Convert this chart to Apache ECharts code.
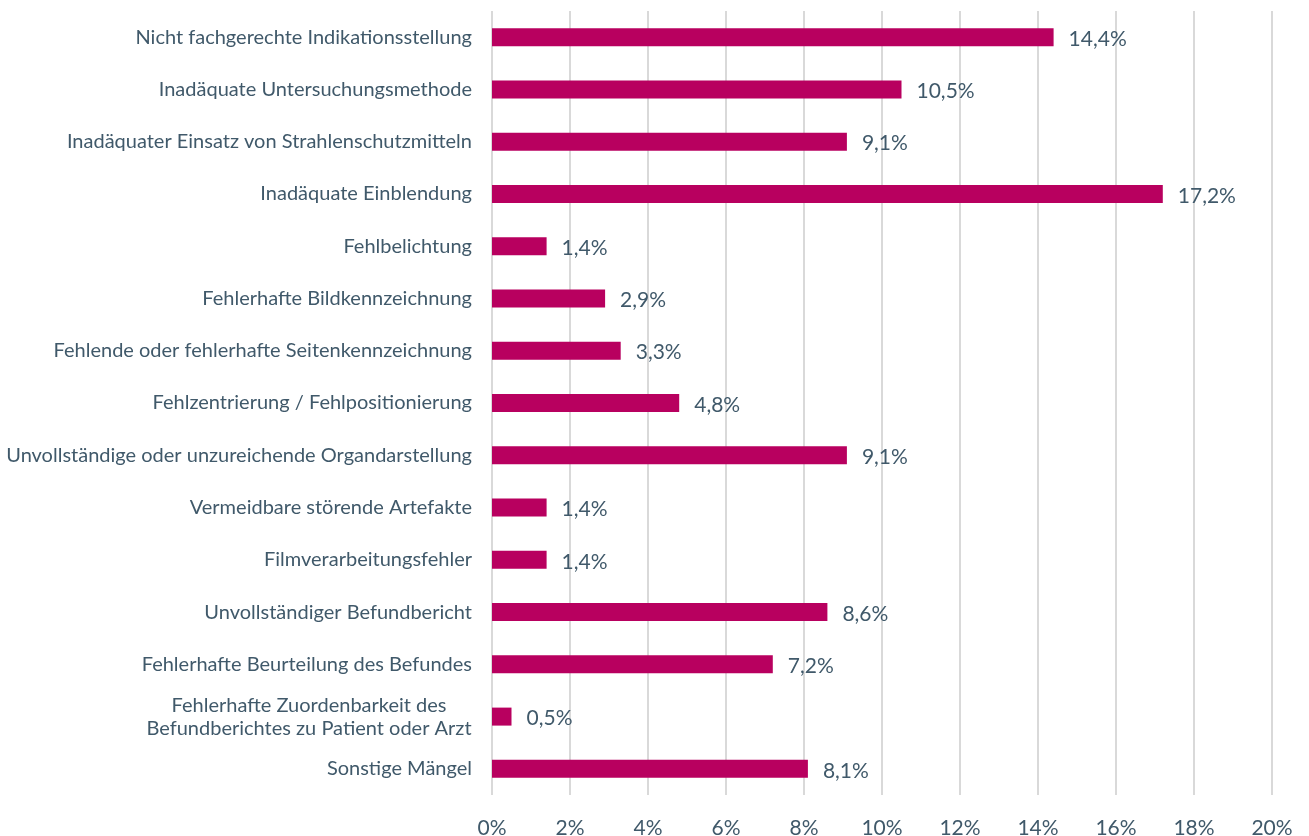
<!DOCTYPE html>
<html>
<head>
<meta charset="utf-8">
<script src="https://cdn.jsdelivr.net/npm/echarts@6/dist/echarts.min.js"></script>
<style>
  html, body { margin: 0; padding: 0; background: #fff; }
  #chart { width: 1309px; height: 836px; }
</style>
</head>
<body>
<div id="chart"></div>
<script>
// Kategorien von oben nach unten
var categories = [
    'Nicht fachgerechte Indikationsstellung',
    'Inadäquate Untersuchungsmethode',
    'Inadäquater Einsatz von Strahlenschutzmitteln',
    'Inadäquate Einblendung',
    'Fehlbelichtung',
    'Fehlerhafte Bildkennzeichnung',
    'Fehlende oder fehlerhafte Seitenkennzeichnung',
    'Fehlzentrierung / Fehlpositionierung',
    'Unvollständige oder unzureichende Organdarstellung',
    'Vermeidbare störende Artefakte',
    'Filmverarbeitungsfehler',
    'Unvollständiger Befundbericht',
    'Fehlerhafte Beurteilung des Befundes',
    'Fehlerhafte Zuordenbarkeit des\nBefundberichtes zu Patient oder Arzt',
    'Sonstige Mängel'
];
// Anteile in Prozent
var values = [14.4, 10.5, 9.1, 17.2, 1.4, 2.9, 3.3, 4.8, 9.1, 1.4, 1.4, 8.6, 7.2, 0.5, 8.1];

var axisMin = 0;
var axisMax = 20;
var axisStep = 2;

(function () {
    var font = 'Lato, "Open Sans", sans-serif';
    var textColor = '#40596a';
    var myChart = echarts.init(document.getElementById('chart'));
    var option = {
        animation: false,
        grid: {
            top: 11,
            bottom: 41,
            left: 492,
            right: 37,
            containLabel: false,
            outerBoundsMode: 'none' // Raster nicht wegen Beschriftung verkleinern
        },
        xAxis: {
            type: 'value',
            min: axisMin,
            max: axisMax,
            interval: axisStep,
            axisLine: { show: false },
            axisTick: { show: false },
            axisLabel: {
                color: textColor,
                fontFamily: font,
                fontSize: 21,
                margin: 23,
                formatter: '{value}%'
            },
            splitLine: {
                lineStyle: { color: '#d9d9d9', width: 2 }
            }
        },
        yAxis: {
            type: 'category',
            inverse: true, // erste Kategorie oben
            data: categories,
            axisLine: { show: false },
            axisTick: { show: false },
            axisLabel: {
                color: textColor,
                fontFamily: font,
                fontSize: 20,
                margin: 20,
                align: 'right',
                // zweizeilige Beschriftung zentriert untereinander
                formatter: function (v) {
                    if (v.indexOf('\n') < 0) return v;
                    return v.split('\n').map(function (s) {
                        return '{c|' + s + '}';
                    }).join('\n');
                },
                rich: {
                    c: {
                        color: textColor,
                        fontFamily: font,
                        fontSize: 20,
                        lineHeight: 23,
                        width: 326,
                        align: 'center'
                    }
                }
            }
        },
        series: [{
            type: 'bar',
            data: values,
            barWidth: 18,
            itemStyle: { color: '#b8005f' },
            label: {
                show: true,
                position: 'right',
                distance: 15,
                offset: [0, 2],
                color: textColor,
                fontFamily: font,
                fontSize: 21,
                formatter: function (p) {
                    return p.value.toFixed(1).replace('.', ',') + '%';
                }
            }
        }]
    };
    myChart.setOption(option);
})();
</script>
</body>
</html>
